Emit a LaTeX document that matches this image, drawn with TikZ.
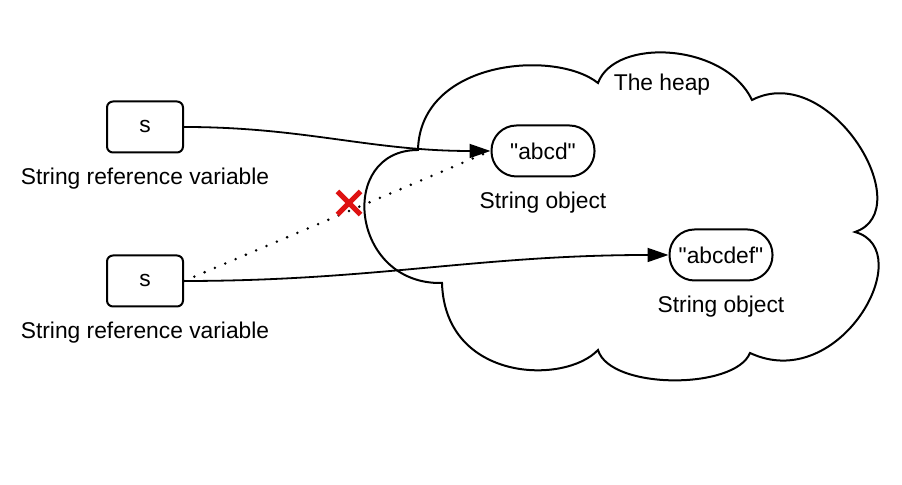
\documentclass[tikz,border=0pt]{standalone}
\usepackage{fontspec}
\setmainfont{Liberation Sans}
\usetikzlibrary{positioning,arrows.meta,shapes.misc}
\definecolor{xred}{RGB}{222,18,18}

\begin{document}
\begin{tikzpicture}[x=5pt, y=5pt,
        every node/.style={font=\fontsize{11.4}{13.7}\selectfont},
        var/.style={draw, line width=1pt, rounded corners=3pt, minimum width=38pt, minimum height=25.5pt},
        obj/.style={draw, line width=1pt, rounded corners=12.5pt, minimum width=51.5pt, minimum height=25.5pt},
        lbl/.style={inner sep=0pt},
        link/.style={line width=0.9pt, -{Triangle[length=10.5pt,width=7pt]}}]
        \useasboundingbox (0,0) rectangle (90.2,48.5);

        % the heap
        \draw[line width=1pt] (41.8,33.5)
            .. controls (42,42.5) and (55.5,43.6) .. (59.8,40.2)
            .. controls (61.5,44.8) and (72.5,44.2) .. (75.2,38.5)
            .. controls (83,42.5) and (92,27.5) .. (85.5,25.3)
            .. controls (92,23.5) and (84,9) .. (75.0,13.2)
            .. controls (73.5,9.5) and (61,9.5) .. (59.8,13.5)
            .. controls (56.5,10) and (44.5,10.3) .. (44.2,20.2)
            .. controls (35,20) and (33.7,33.5) .. (41.8,33.5) -- cycle;
        \node (heap) at (66.2,40.0) {The heap};

        \node[var] (s1) at (14.5,35.8) {s};
        \node[var] (s2) at (14.5,20.4) {s};
        \node[lbl, below=7pt of s1] (s1lbl) {String reference variable};
        \node[lbl, below=7pt of s2] (s2lbl) {String reference variable};

        \node[obj] (abcd) at (54.3,33.4) {\textquotedbl abcd\textquotedbl};
        \node[obj] (abcdef) at (72.1,23.0) {\textquotedbl abcdef\textquotedbl};
        \node[lbl, below=7pt of abcd] (abcdlbl) {String object};
        \node[lbl, below=7pt of abcdef] (abcdeflbl) {String object};

        \draw[link] (s1.east) to[out=0, in=180] (abcd.west);
        \draw[link] (s2.east) to[out=0, in=180] (abcdef.west);
        \draw[line width=1.4pt, line cap=round, dash pattern=on 0pt off 5.6pt] (s2.east) -- (abcd.west);

        \node[cross out, draw=xred, line width=2.6pt, minimum size=9pt, inner sep=0pt] (cut) at (34.9,28.2) {};
    \end{tikzpicture}
\end{document}
